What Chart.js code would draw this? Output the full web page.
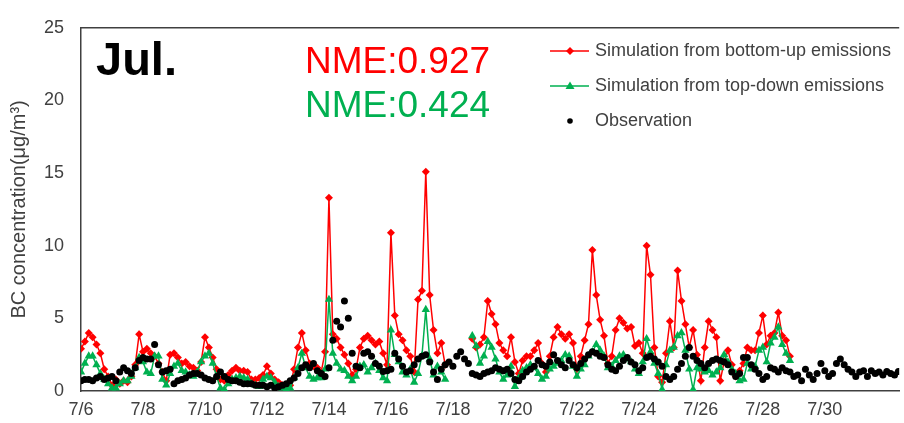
<!DOCTYPE html>
<html>
<head>
<meta charset="utf-8">
<script src="https://cdn.jsdelivr.net/npm/chart.js@4.4.1/dist/chart.umd.min.js"></script>
<style>
  html, body { margin: 0; padding: 0; background: #fff; }
  canvas { display: block; }
</style>
</head>
<body>
<canvas id="bcChart" width="904" height="423"></canvas>
<script>
// one value every 3 hours, starting 7/6 00:00
const STEP_HOURS = 3;

const dateLabels = ["7/6", "7/8", "7/10", "7/12", "7/14", "7/16", "7/18", "7/20", "7/22", "7/24", "7/26", "7/28", "7/30"];
const yTickValues = [0, 5, 10, 15, 20, 25];

const seriesNames = ["Simulation from bottom-up emissions", "Simulation from top-down emissions", "Observation"];
const nmeLabels = ["NME:0.927", "NME:0.424"];
const monthLabel = "Jul.";

// BC, bottom-up emissions (μg/m3)
const bottomUp = [
  2.9, 3.4, 4.0, 3.7, 3.2, 2.6, 1.5, 1.0,
  0.4, 0.8, 0.5, 0.7, 0.6, 1.0, 1.8, 3.9,
  2.7, 2.9, 2.6, 2.4, 1.9, 1.3, 0.7, 2.5,
  2.6, 2.3, 1.9, 2.0, 1.7, 1.6, 1.4, 2.0,
  3.7, 3.0, 2.3, 1.5, 0.8, 0.7, 1.1, 1.4,
  1.6, 1.4, 1.4, 1.3, 0.8, 0.8, 0.9, 1.1,
  1.7, 1.2, 0.8, 0.6, 0.4, 0.3, 0.4, 1.5,
  3.0, 4.0, 2.8, 1.9, 1.7, 1.6, 1.3, 2.7,
  13.3, 3.9, 3.6, 3.0, 2.5, 1.9, 1.1, 1.5,
  3.0, 3.6, 3.8, 3.5, 3.2, 3.4, 2.6, 1.8,
  10.9, 5.2, 3.9, 3.5, 2.8, 2.4, 1.3, 6.3,
  6.9, 15.1, 6.6, 4.2, 2.6, 3.3, 1.8, null,
  null, null, null, null, null, 3.6, 3.0, 3.2,
  3.7, 6.2, 5.3, 4.6, 3.3, 2.8, 2.4, 3.7,
  2.0, 1.2, 2.1, 2.4, 2.4, 2.8, 3.3, 1.9,
  1.3, 2.4, 3.7, 4.4, 3.9, 3.6, 3.9, 3.3,
  1.5, 2.4, 3.5, 4.6, 9.7, 6.6, 4.9, 3.8,
  1.9, 2.4, 4.2, 5.0, 4.7, 4.3, 4.4, 3.1,
  3.3, 2.6, 10.0, 8.0, 3.0, 1.0, 0.6, 2.6,
  4.8, 3.0, 8.3, 6.2, 4.6, 3.0, 4.2, 2.5,
  0.7, 3.0, 4.8, 4.2, 3.7, 0.7, 2.0, 2.8,
  1.8, 1.0, 1.4, 1.9, 3.0, 2.8, 2.8, 4.0,
  5.2, 3.2, 3.8, 4.0, 5.4, 3.8, 3.5, 2.4
];

// BC, top-down emissions
const topDown = [
  1.3, 1.9, 2.4, 2.4, 1.8, 1.2, 0.8, 0.5,
  0.2, 0.2, 0.5, 0.7, 0.7, 1.0, 1.6, 2.3,
  2.0, 1.3, 1.2, 2.4, 2.4, 0.8, 0.4, 1.2,
  1.7, 1.9, 1.4, 1.3, 1.1, 1.0, 1.3, 2.0,
  2.4, 2.6, 1.9, 1.0, 0.2, 0.1, 0.5, 0.8,
  0.9, 1.0, 0.9, 0.8, 0.5, 0.4, 0.3, 0.8,
  1.0, 0.9, 0.6, 0.3, 0.2, 0.1, 0.2, 0.9,
  1.6, 2.6, 1.6, 1.0, 0.8, 0.9, 0.9, 1.5,
  6.3, 2.6, 1.9, 1.5, 1.4, 1.0, 0.7, 1.0,
  1.7, 1.8, 1.3, 1.6, 1.9, 1.4, 0.9, 0.7,
  4.2, 2.5, 2.0, 1.3, 1.1, 1.5, 0.6, 1.2,
  2.4, 5.6, 2.2, 1.1, 1.7, 1.3, 0.8, null,
  null, null, null, null, null, 3.8, 3.1, 1.9,
  2.4, 3.4, 3.0, 2.2, 1.3, 0.8, 1.1, 1.7,
  0.3, 0.9, 1.4, 1.6, 1.8, 1.6, 1.2, 0.8,
  1.0, 1.5, 1.7, 1.9, 2.1, 2.5, 2.4, 1.7,
  1.0, 1.5, 1.8, 2.4, 2.7, 3.2, 2.8, 2.4,
  1.6, 1.7, 2.1, 2.4, 2.5, 2.2, 2.0, 1.5,
  1.2, 2.0, 3.6, 2.7, 1.9, 1.2, 0.1, 1.8,
  2.8, 3.0, 3.8, 4.0, 2.8, 1.5, 0.1, 1.6,
  1.5, 1.3, 1.4, 1.1, 1.3, 1.6, 2.5, 2.0,
  1.5, 1.2, 0.7, 0.8, 1.9, 1.5, 1.7, 2.8,
  3.0, 2.0, 3.3, 3.7, 4.4, 3.2, 2.6, 2.1
];

// observed BC
const observation = [
  0.7, 0.8, 0.8, 0.7, 0.9, 1.0, 0.8, 0.9,
  1.0, 0.7, 1.3, 1.6, 1.4, 1.2, 1.6, 2.1,
  2.3, 2.2, 2.2, 3.2, 1.8, 1.3, 1.4, 1.5,
  0.5, 0.7, 0.8, 0.9, 1.1, 1.2, 1.2, 1.1,
  0.9, 0.8, 0.7, 1.0, 1.3, 1.0, 0.8, 0.7,
  0.7, 0.6, 0.5, 0.5, 0.5, 0.4, 0.4, 0.4,
  0.3, 0.4, 0.2, 0.3, 0.4, 0.5, 0.7, 0.9,
  1.2, 1.6, 1.8, 1.6, 1.9, 1.4, 1.2, 1.0,
  1.6, 3.5, 4.8, 4.4, 6.2, 5.0, 2.6, 1.7,
  1.6, 2.6, 2.7, 2.4, 1.9, 1.7, 1.35, 1.4,
  1.5, 2.6, 2.2, 1.7, 1.3, 1.4, 1.8, 2.2,
  2.4, 2.5, 2.0, 1.3, 0.8, 1.5, 1.8, 2.0,
  1.7, 2.4, 2.7, 2.2, 1.9, 1.2, 1.1, 1.0,
  1.2, 1.3, 1.4, 1.6, 1.5, 1.4, 1.5, 1.2,
  0.8, 0.7, 1.0, 1.3, 1.5, 1.7, 2.1, 1.8,
  1.7, 2.0, 2.5, 2.1, 1.8, 1.6, 2.1, 1.8,
  1.6, 1.9, 2.2, 2.5, 2.7, 2.6, 2.4, 2.3,
  1.8, 1.5, 1.4, 1.7, 2.1, 2.3, 2.0, 1.8,
  1.4, 1.6, 2.3, 2.4, 2.2, 2.0, 1.7, 1.0,
  0.8, 1.0, 1.5, 1.9, 2.4, 3.0, 2.4, 2.1,
  1.9, 1.6, 1.9, 2.1, 2.2, 2.1, 2.0, 1.8,
  1.3, 1.0, 1.2, 2.3, 2.3, 1.8, 1.5, 1.2,
  0.8, 1.0, 1.6, 1.5, 1.3, 1.6, 1.4, 1.3,
  1.0, 1.1, 0.7, 1.5, 1.1, 0.8, 1.2, 1.9,
  1.4, 1.0, 1.2, 1.9, 2.2, 1.8, 1.5, 1.3,
  1.0, 1.3, 1.4, 1.0, 1.4, 1.2, 1.3, 1.1,
  1.35, 1.2, 1.1, 1.35
];

const RED = "#ff0000";
const GREEN = "#00b050";
const TEXT = "#404040";
const FONT = "'Liberation Sans', Arial, sans-serif";

// x in days since 7/6 00:00
function toPoints(values) {
  return values.map((v, i) => ({ x: i * STEP_HOURS / 24, y: v }));
}

// top frame line, texts and the legend inside the plot
const decorations = {
  id: "decorations",
  afterDraw(chart) {
    const ctx = chart.ctx;
    const area = chart.chartArea;
    ctx.save();

    ctx.strokeStyle = TEXT;
    ctx.lineWidth = 1.5;
    ctx.beginPath();
    ctx.moveTo(area.left, area.top);
    ctx.lineTo(area.right, area.top);
    ctx.stroke();

    ctx.textAlign = "left";
    ctx.textBaseline = "alphabetic";
    ctx.fillStyle = "#000";
    ctx.font = "bold 47px " + FONT;
    ctx.fillText(monthLabel, 96, 75);

    ctx.font = "37px " + FONT;
    ctx.fillStyle = RED;
    ctx.fillText(nmeLabels[0], 305, 73);
    ctx.fillStyle = GREEN;
    ctx.fillText(nmeLabels[1], 305, 117);

    // legend
    const rows = [51, 86, 121];
    ctx.font = "18px " + FONT;
    ctx.textBaseline = "middle";
    chart.data.datasets.forEach((ds, k) => {
      const y = rows[k];
      if (ds.showLine !== false) {
        ctx.strokeStyle = ds.borderColor;
        ctx.lineWidth = 1.5;
        ctx.beginPath();
        ctx.moveTo(550, y);
        ctx.lineTo(589, y);
        ctx.stroke();
      }
      ctx.fillStyle = ds.pointBackgroundColor;
      ctx.beginPath();
      if (ds.pointStyle === "rectRot") {
        ctx.moveTo(570, y - 4); ctx.lineTo(574, y); ctx.lineTo(570, y + 4); ctx.lineTo(566, y);
      } else if (ds.pointStyle === "triangle") {
        ctx.moveTo(570, y - 4.5); ctx.lineTo(574.5, y + 3); ctx.lineTo(565.5, y + 3);
      } else {
        ctx.arc(570, y, 2.8, 0, Math.PI * 2);
      }
      ctx.closePath();
      ctx.fill();
      ctx.fillStyle = TEXT;
      ctx.fillText(ds.label, 595, y);
    });
    ctx.restore();
  }
};

new Chart(document.getElementById("bcChart"), {
  type: "line",
  data: {
    datasets: [
      {
        label: seriesNames[0],
        data: toPoints(bottomUp),
        borderColor: RED,
        backgroundColor: RED,
        pointBackgroundColor: RED,
        pointBorderColor: RED,
        borderWidth: 1.5,
        pointStyle: "rectRot",
        pointRadius: 4,
        pointBorderWidth: 0,
        spanGaps: false,
        order: 3
      },
      {
        label: seriesNames[1],
        data: toPoints(topDown),
        borderColor: GREEN,
        backgroundColor: GREEN,
        pointBackgroundColor: GREEN,
        pointBorderColor: GREEN,
        borderWidth: 1.5,
        pointStyle: "triangle",
        pointRadius: 4.8,
        pointBorderWidth: 0,
        spanGaps: false,
        order: 2
      },
      {
        label: seriesNames[2],
        data: toPoints(observation),
        showLine: false,
        borderColor: "#000",
        backgroundColor: "#000",
        pointBackgroundColor: "#000",
        pointBorderColor: "#000",
        pointStyle: "circle",
        pointRadius: 3.5,
        pointBorderWidth: 0,
        order: 1
      }
    ]
  },
  options: {
    responsive: false,
    animation: false,
    layout: { padding: { top: 20, right: 0, bottom: 0, left: 0 } },
    plugins: {
      legend: { display: false },
      tooltip: { enabled: false }
    },
    scales: {
      x: {
        type: "linear",
        min: 0,
        max: 26.4,
        grid: { display: true, drawOnChartArea: false, drawTicks: false },
        border: { display: true, color: TEXT, width: 1.5 },
        afterFit: s => { s.height = 32; },
        ticks: {
          stepSize: 2,
          autoSkip: false,
          maxRotation: 0,
          padding: 8,
          color: TEXT,
          font: { family: FONT, size: 18 },
          callback: v => {
            const k = v / 2;
            return Number.isInteger(k) && k < dateLabels.length ? dateLabels[k] : null;
          }
        }
      },
      y: {
        min: yTickValues[0],
        max: yTickValues[yTickValues.length - 1],
        grid: { display: true, drawOnChartArea: false, drawTicks: false },
        border: { display: true, color: TEXT, width: 1.5 },
        afterFit: s => { s.width = 81; },
        afterBuildTicks: s => { s.ticks = yTickValues.map(v => ({ value: v })); },
        ticks: {
          padding: 17,
          color: TEXT,
          font: { family: FONT, size: 18 }
        },
        title: {
          display: true,
          text: "BC concentration(μg/m³)",
          color: TEXT,
          font: { family: FONT, size: 20 },
          padding: { top: 7, bottom: 0 }
        }
      }
    }
  },
  plugins: [decorations]
});
</script>
</body>
</html>
